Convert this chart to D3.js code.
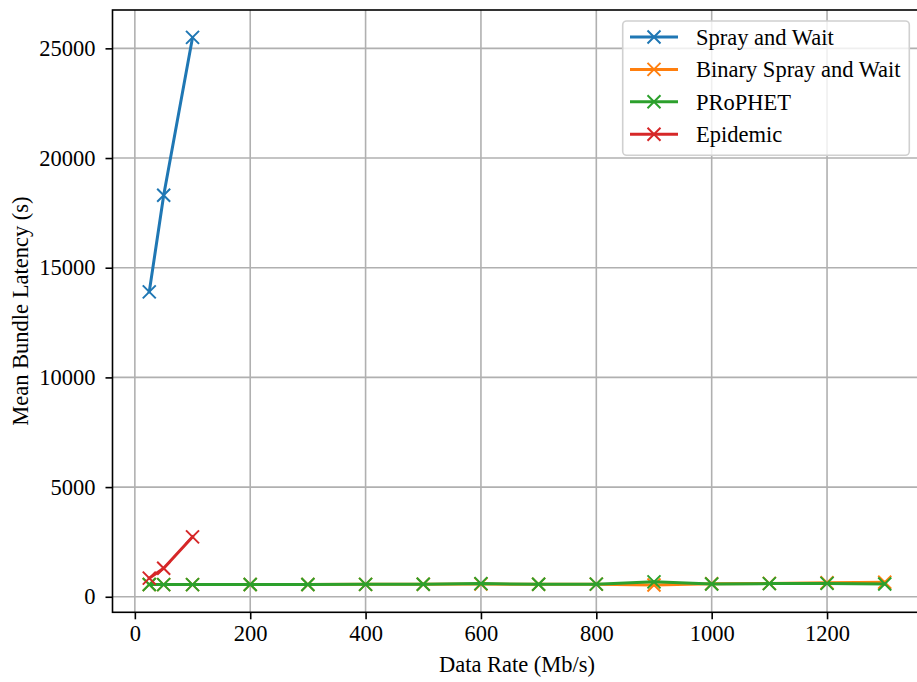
<!DOCTYPE html>
<html>
<head>
<meta charset="utf-8">
<script src="https://cdn.jsdelivr.net/npm/d3@7"></script>
<style>
  html, body { margin: 0; padding: 0; background: #fff; }
  svg { display: block; }
  svg text { font-family: "Liberation Serif", "Times New Roman", Times, "DejaVu Serif", serif; }
</style>
</head>
<body>
<svg id="chart" width="917" height="682"></svg>
<script>
// Data rates (Mb/s) sampled for each routing protocol
const ratesFull = [25, 50, 100, 200, 300, 400, 500, 600, 700, 800, 900, 1000, 1100, 1200, 1300];
const ratesShort = [25, 50, 100];

// Mean bundle latency (s)
const sprayAndWait = [13900, 18300, 25500];
const binarySprayAndWait = [560, 555, 555, 560, 560, 565, 570, 580, 570, 575, 540, 590, 610, 640, 660];
const prophet = [560, 555, 555, 560, 560, 565, 570, 600, 570, 575, 680, 580, 600, 610, 580];
const epidemic = [850, 1300, 2730];

const xTicks = [0, 200, 400, 600, 800, 1000, 1200];
const yTicks = [0, 5000, 10000, 15000, 20000, 25000];

const series = [
  { name: "Spray and Wait", x: ratesShort, y: sprayAndWait, color: "#1f77b4" },
  { name: "Binary Spray and Wait", x: ratesFull, y: binarySprayAndWait, color: "#ff7f0e" },
  { name: "PRoPHET", x: ratesFull, y: prophet, color: "#2ca02c" },
  { name: "Epidemic", x: ratesShort, y: epidemic, color: "#d62728" }
];

const FONT = 22.5;
const svg = d3.select("#chart");
const plot = { left: 112.5, right: 921.5, top: 10, bottom: 612.3 };

// Axis limits with 5% padding around the data
const allX = series.flatMap(s => s.x);
const allY = series.flatMap(s => s.y);
const [x0, x1] = d3.extent(allX);
const [y0, y1] = d3.extent(allY);
const xPad = (x1 - x0) * 0.05, yPad = (y1 - y0) * 0.05;

const x = d3.scaleLinear().domain([x0 - xPad, x1 + xPad]).range([plot.left, plot.right]);
const y = d3.scaleLinear().domain([y0 - yPad, y1 + yPad]).range([plot.bottom, plot.top]);

const grid = svg.append("g");
grid.selectAll("line.vx").data(xTicks).join("line")
  .attr("x1", d => x(d)).attr("x2", d => x(d))
  .attr("y1", plot.top).attr("y2", plot.bottom)
  .attr("stroke", "#b0b0b0").attr("stroke-width", 1.6);
grid.selectAll("line.hy").data(yTicks).join("line")
  .attr("x1", plot.left).attr("x2", plot.right)
  .attr("y1", d => y(d)).attr("y2", d => y(d))
  .attr("stroke", "#b0b0b0").attr("stroke-width", 1.6);

// Series lines and x markers
const line = d3.line().x(d => x(d[0])).y(d => y(d[1]));
const markerPath = () => "M-6.5,-6.5L6.5,6.5M-6.5,6.5L6.5,-6.5";

series.forEach(s => {
  const pts = s.x.map((v, i) => [v, s.y[i]]);
  const g = svg.append("g");
  g.append("path").datum(pts)
    .attr("d", line)
    .attr("fill", "none")
    .attr("stroke", s.color)
    .attr("stroke-width", 3)
    .attr("stroke-linejoin", "round")
    .attr("stroke-linecap", "square");
  g.selectAll("path.m").data(pts).join("path")
    .attr("class", "m")
    .attr("transform", d => `translate(${x(d[0])},${y(d[1])})`)
    .attr("d", markerPath)
    .attr("stroke", s.color)
    .attr("stroke-width", 2)
    .attr("fill", "none");
});

// Axes
const xAxis = d3.axisBottom(x).tickValues(xTicks).tickSize(7).tickPadding(6).tickFormat(d3.format("d"));
const yAxis = d3.axisLeft(y).tickValues(yTicks).tickSize(7).tickPadding(10).tickFormat(d3.format("d"));

const gx = svg.append("g").attr("transform", `translate(0,${plot.bottom})`).call(xAxis);
const gy = svg.append("g").attr("transform", `translate(${plot.left},0)`).call(yAxis);
[gx, gy].forEach(g => {
  g.attr("font-family", null).attr("font-size", null);
  g.select(".domain").remove();
  g.selectAll(".tick line").attr("stroke", "#000").attr("stroke-width", 1.6);
  g.selectAll(".tick text").attr("fill", "#000").attr("font-size", FONT);
});

// Spines
svg.append("rect")
  .attr("x", plot.left).attr("y", plot.top)
  .attr("width", plot.right - plot.left).attr("height", plot.bottom - plot.top)
  .attr("fill", "none").attr("stroke", "#000").attr("stroke-width", 1.6);

// Axis titles
svg.append("text")
  .attr("x", (plot.left + plot.right) / 2).attr("y", 672)
  .attr("text-anchor", "middle").attr("font-size", FONT)
  .text("Data Rate (Mb/s)");
svg.append("text")
  .attr("transform", `translate(28,${(plot.top + plot.bottom) / 2}) rotate(-90)`)
  .attr("text-anchor", "middle").attr("font-size", FONT)
  .text("Mean Bundle Latency (s)");

// Legend
const leg = svg.append("g");
leg.append("rect")
  .attr("x", 622.7).attr("y", 21).attr("width", 286.6).attr("height", 134.3)
  .attr("rx", 4).attr("ry", 4)
  .attr("fill", "rgba(255,255,255,0.8)").attr("stroke", "#d0d0d0").attr("stroke-width", 1.6);
series.forEach((s, i) => {
  const cy = 37 + i * 32.4;
  const row = leg.append("g");
  row.append("line").attr("x1", 630).attr("x2", 678).attr("y1", cy).attr("y2", cy)
    .attr("stroke", s.color).attr("stroke-width", 3);
  row.append("path").attr("transform", `translate(654,${cy})`).attr("d", markerPath)
    .attr("stroke", s.color).attr("stroke-width", 2).attr("fill", "none");
  row.append("text").attr("x", 696).attr("y", cy).attr("dy", "0.35em")
    .attr("font-size", FONT).attr("fill", "#000").text(s.name);
});
</script>
</body>
</html>
